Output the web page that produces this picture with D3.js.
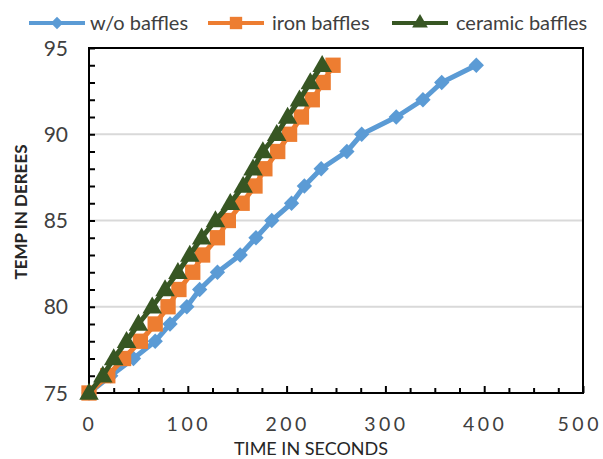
<!DOCTYPE html>
<html>
<head>
<meta charset="utf-8">
<script src="https://cdn.jsdelivr.net/npm/d3@7"></script>
<style>
  body { margin: 0; background: #fff; }
  svg { display: block; font-family: Lato, "Open Sans", sans-serif; }
</style>
</head>
<body>
<svg id="chart"></svg>
<script>
// temperatures reached (one reading per degree)
const temps = [75, 76, 77, 78, 79, 80, 81, 82, 83, 84, 85, 86, 87, 88, 89, 90, 91, 92, 93, 94];
// seconds at which each temperature was reached
const timeNoBaffles = [0, 22, 45, 67, 82, 99, 112, 130, 153, 169, 185, 205, 218, 235, 261, 276, 311, 338, 357, 392];
const timeIron = [0, 19, 35, 52, 67, 80, 91, 105, 115, 130, 141, 155, 168, 178, 191, 203, 215, 226, 237, 247];
const timeCeramic = [0, 14, 25, 38, 50, 64, 77, 90, 102, 114, 128, 143, 156, 166, 176, 190, 201, 213, 224, 236];
const seriesNames = ['w/o baffles', 'iron baffles', 'ceramic baffles'];
const xTicks = [0, 100, 200, 300, 400, 500];
const yTicks = [75, 80, 85, 90, 95];

class TempChart {

    constructor(_config, _data) {
        this.config = {
            parentElement: _config.parentElement,
            containerWidth: 603,
            containerHeight: 459,
            margin: { top: 48, right: 20, bottom: 66, left: 89 }
        };
        this.data = _data;
        this.initVis();
    }

    initVis() {
        let vis = this;
        vis.config.width = 583 - vis.config.margin.left;
        vis.config.height = 393 - vis.config.margin.top;

        vis.svg = d3.select(vis.config.parentElement)
            .attr('width', vis.config.containerWidth)
            .attr('height', vis.config.containerHeight);

        vis.chart = vis.svg.append('g')
            .attr('transform', `translate(${vis.config.margin.left},${vis.config.margin.top})`);

        vis.xScale = d3.scaleLinear().domain([0, 500]).range([0, vis.config.width]);
        vis.yScale = d3.scaleLinear().domain([75, 95]).range([vis.config.height, 0]);

        vis.colorScale = d3.scaleOrdinal()
            .domain(seriesNames)
            .range(['#5B9BD5', '#ED7D31', '#375623']);
        vis.symbolScale = d3.scaleOrdinal()
            .domain(seriesNames)
            .range([d3.symbolDiamond2, d3.symbolSquare, d3.symbolTriangle]);
        vis.symbolSize = { 'w/o baffles': 150, 'iron baffles': 235, 'ceramic baffles': 165 };

        // gridlines
        vis.chart.append('g')
            .selectAll('line')
            .data(yTicks.filter(d => d > 75 && d < 95))
            .join('line')
            .attr('x1', 0)
            .attr('x2', vis.config.width)
            .attr('y1', d => vis.yScale(d))
            .attr('y2', d => vis.yScale(d))
            .attr('stroke', '#d9d9d9')
            .attr('stroke-width', 2);

        // frame
        vis.chart.append('rect')
            .attr('width', vis.config.width)
            .attr('height', vis.config.height)
            .attr('fill', 'none')
            .attr('stroke', '#000')
            .attr('stroke-width', 2);

        // y axis: inner ticks every degree
        vis.yAxisG = vis.chart.append('g')
            .call(d3.axisRight(vis.yScale).tickValues(d3.range(75, 96)).tickSize(6).tickFormat(''))
            .call(g => g.select('.domain').remove())
            .call(g => g.selectAll('line').attr('stroke', '#000').attr('stroke-width', 2));

        vis.chart.append('g')
            .selectAll('text')
            .data(yTicks)
            .join('text')
            .attr('x', -21)
            .attr('y', d => vis.yScale(d))
            .attr('dy', '0.36em')
            .attr('text-anchor', 'end')
            .attr('font-size', 21)
            .attr('fill', '#404040')
            .text(d => d);

        // x axis: inner ticks every 25 s
        vis.xAxisG = vis.chart.append('g')
            .attr('transform', `translate(0,${vis.config.height})`)
            .call(d3.axisTop(vis.xScale).tickValues(d3.range(0, 501, 25)).tickSize(5).tickFormat(''))
            .call(g => g.select('.domain').remove())
            .call(g => g.selectAll('line').attr('stroke', '#000').attr('stroke-width', 2)
                .attr('y2', d => d % 100 === 0 ? -7 : -5));

        // last label sits at the edge, keep it inside the page
        vis.chart.append('g')
            .selectAll('text')
            .data(xTicks)
            .join('text')
            .attr('x', d => d === 500 ? vis.config.width + 19 : vis.xScale(d) + 1)
            .attr('y', vis.config.height + 38)
            .attr('text-anchor', d => d === 500 ? 'end' : 'middle')
            .attr('font-size', 19.5)
            .attr('letter-spacing', 3.5)
            .attr('fill', '#404040')
            .text(d => d);

        // axis titles
        vis.svg.append('text')
            .attr('x', 311)
            .attr('y', 455)
            .attr('text-anchor', 'middle')
            .attr('font-size', 18)
            .attr('fill', '#262626')
            .text('TIME IN SECONDS');

        vis.svg.append('text')
            .attr('transform', 'translate(27,212) rotate(-90)')
            .attr('text-anchor', 'middle')
            .attr('font-size', 17)
            .attr('font-weight', 'bold')
            .attr('fill', '#262626')
            .text('TEMP IN DEREES');

        // legend
        const legendPos = [{ x: 29, tx: 90 }, { x: 208, tx: 272 }, { x: 392, tx: 456 }];
        const legend = vis.svg.append('g').attr('class', 'legend');
        const items = legend.selectAll('.legend-item')
            .data(seriesNames)
            .join('g')
            .attr('class', 'legend-item')
            .attr('transform', (d, i) => `translate(${legendPos[i].x},23)`);

        items.append('line')
            .attr('x1', 0)
            .attr('x2', 56)
            .attr('stroke', d => vis.colorScale(d))
            .attr('stroke-width', 4);

        items.append('path')
            .attr('transform', 'translate(28,0)')
            .attr('d', d => d3.symbol(vis.symbolScale(d), vis.symbolSize[d] * 0.65)())
            .attr('fill', d => vis.colorScale(d));

        items.append('text')
            .attr('x', (d, i) => legendPos[i].tx - legendPos[i].x)
            .attr('dy', '0.35em')
            .attr('font-size', 20)
            .attr('fill', '#404040')
            .text(d => d);
    }

    renderVis() {
        let vis = this;

        const line = d3.line()
            .x(d => vis.xScale(d.time))
            .y(d => vis.yScale(d.temp));

        const series = vis.chart.selectAll('.series')
            .data(vis.data)
            .join('g')
            .attr('class', 'series');

        series.append('path')
            .attr('fill', 'none')
            .attr('stroke', d => vis.colorScale(d.name))
            .attr('stroke-width', 5)
            .attr('stroke-linejoin', 'round')
            .attr('d', d => line(d.values));

        series.selectAll('.marker')
            .data(d => d.values.map(v => ({ ...v, name: d.name })))
            .join('path')
            .attr('class', 'marker')
            .attr('transform', d => `translate(${vis.xScale(d.time)},${vis.yScale(d.temp) + (d.name === 'ceramic baffles' ? 1 : 0)})`)
            .attr('d', d => d3.symbol(vis.symbolScale(d.name), vis.symbolSize[d.name])())
            .attr('fill', d => vis.colorScale(d.name));
    }
}

const times = [timeNoBaffles, timeIron, timeCeramic];
const data = seriesNames.map((name, i) => ({
    name: name,
    values: temps.map((t, j) => ({ temp: t, time: times[i][j] }))
}));

const chart = new TempChart({ parentElement: '#chart' }, data);
chart.renderVis();
</script>
</body>
</html>
